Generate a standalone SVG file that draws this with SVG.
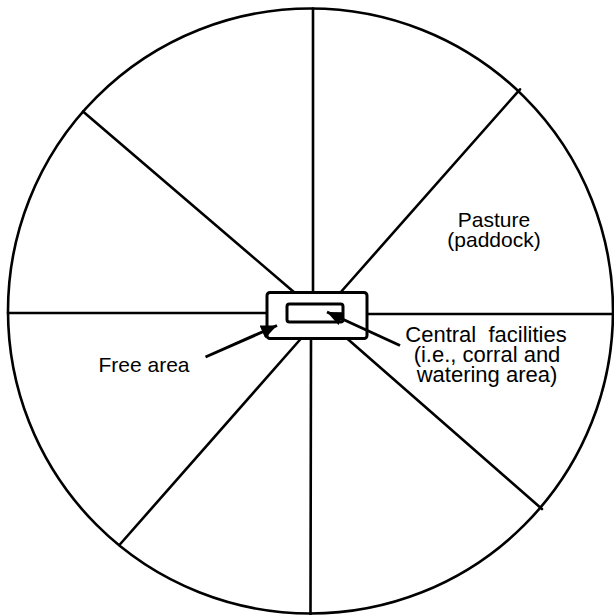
<svg xmlns="http://www.w3.org/2000/svg" width="614" height="615" viewBox="0 0 614 615">
<defs>
<style>
.ln{stroke:#000;stroke-width:2.6;fill:none;stroke-linecap:round}
.bx{stroke:#000;stroke-width:3;fill:#fff}
.t{font-family:"Liberation Sans",Arial,sans-serif;font-size:21px;fill:#000}
.ar{stroke:#000;stroke-width:3;fill:none}
</style>
<marker id="ah" markerUnits="userSpaceOnUse" markerWidth="20" markerHeight="16" refX="16" refY="7" orient="auto">
<path d="M0,0 L16,7 L0,14 Z" fill="#000"/>
</marker>
</defs>
<rect width="614" height="615" fill="#fff"/>
<g id="pasture-circle">
<circle cx="310.5" cy="311" r="302.5" class="ln" stroke-width="3"/>
</g>
<g id="spokes">
<line class="ln" x1="313" y1="8.5" x2="313" y2="293"/>
<line class="ln" x1="311" y1="338" x2="310.5" y2="615"/>
<line class="ln" x1="8" y1="313" x2="267" y2="313"/>
<line class="ln" x1="367" y1="314" x2="614" y2="314"/>
<line class="ln" x1="83" y1="111.5" x2="295" y2="293"/>
<line class="ln" x1="520" y1="89.3" x2="340" y2="293"/>
<line class="ln" x1="119.4" y1="545" x2="301.5" y2="338"/>
<line class="ln" x1="542" y1="509" x2="346.5" y2="338"/>
</g>
<g id="free-area">
<rect class="bx" x="267" y="292.5" width="100" height="46" rx="3"/>
</g>
<g id="central-facilities">
<rect class="bx" x="287" y="304" width="56" height="18" rx="2.5"/>
</g>
<g id="connectors">
<line class="ar" x1="400" y1="345.5" x2="327" y2="312" marker-end="url(#ah)"/>
<line class="ar" x1="205.5" y1="357" x2="277" y2="325.5" marker-end="url(#ah)"/>
</g>
<g id="labels">
<text class="t" x="494" y="226.5" text-anchor="middle">Pasture</text>
<text class="t" x="494" y="246.5" text-anchor="middle">(paddock)</text>
<text class="t" x="486" y="341.5" text-anchor="middle" style="font-size:22px;white-space:pre" xml:space="preserve">Central  facilities</text>
<text class="t" x="487" y="361.5" text-anchor="middle" style="font-size:22px">(i.e., corral and</text>
<text class="t" x="487" y="381.5" text-anchor="middle" style="font-size:22px">watering area)</text>
<text class="t" x="98.5" y="371.5">Free area</text>
</g>
</svg>
